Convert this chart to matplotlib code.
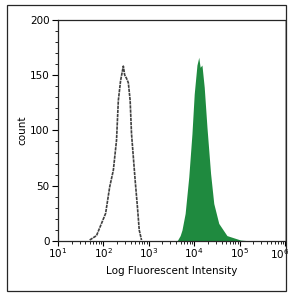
import numpy as np
import matplotlib
matplotlib.use("Agg")
import matplotlib.pyplot as plt
from matplotlib.patches import Rectangle
from matplotlib.ticker import MultipleLocator, LogLocator, FuncFormatter

# control (unstained) histogram, log10 intensity vs count
ctrl_log = [1.70, 1.85, 1.96, 2.05, 2.14, 2.22, 2.29, 2.33, 2.38, 2.44,
            2.47, 2.51, 2.55, 2.59, 2.62, 2.70, 2.75, 2.79, 2.84]
ctrl_cnt = [1, 5, 16, 25, 49, 64, 91, 127, 145, 158,
            150, 147, 143, 127, 97, 55, 31, 10, 1]

# stained sample histogram
stain_log = [3.62, 3.69, 3.73, 3.80, 3.88, 3.95, 4.00, 4.06, 4.10, 4.13,
             4.17, 4.22, 4.28, 4.36, 4.43, 4.54, 4.72, 5.02, 5.30]
stain_cnt = [0, 5, 10, 25, 58, 97, 133, 159, 166, 157,
             159, 139, 103, 61, 34, 16, 5, 1, 0]

plt.rcParams.update({
    'font.family': 'DejaVu Sans',
    'font.size': 7,
    'xtick.labelsize': 7.5,
    'ytick.labelsize': 7.5,
    'axes.labelsize': 7.5,
})

fig = plt.figure(figsize=(2.88, 2.93), dpi=100)
ax = fig.add_axes([0.201, 0.177, 0.789, 0.756])

ax.fill_between(10 ** np.array(stain_log), stain_cnt, 0, color='#1f8a3f', lw=0)
ax.plot(10 ** np.array(ctrl_log), ctrl_cnt, color='0.25', lw=1.2, ls=(0, (2, 0.5)))

ax.set_xscale('log')
ax.set_xlim(10, 1e6)
ax.set_ylim(0, 200)
ax.xaxis.set_major_locator(LogLocator(base=10, numticks=10))
ax.xaxis.set_minor_locator(LogLocator(base=10, subs=np.arange(2, 10), numticks=20))


def dec_fmt(v, pos):
    e = int(round(np.log10(v)))
    if e >= 6:
        return ''  # drawn separately so it stays inside the frame
    return r'$\mathdefault{10^{%d}}$' % e


ax.xaxis.set_major_formatter(FuncFormatter(dec_fmt))
ax.yaxis.set_major_locator(MultipleLocator(50))
ax.yaxis.set_minor_locator(MultipleLocator(10))

ax.tick_params(which='major', direction='out', length=4, width=0.8, pad=2)
ax.tick_params(which='minor', direction='out', length=2.2, width=0.6)
ax.tick_params(axis='x', which='major', length=3.5, pad=0.5)

ax.annotate(r'$\mathdefault{10^{6}}$', xy=(1e6, 0), xycoords=('data', 'axes fraction'),
            xytext=(-4, -4.5), textcoords='offset points', ha='center', va='top',
            fontsize=7.5)

ax.set_xlabel('Log Fluorescent Intensity', labelpad=4)
ax.set_ylabel('count', labelpad=2)

for s in ['left', 'bottom', 'top']:
    ax.spines[s].set_color('0.15')
    ax.spines[s].set_linewidth(0.9)
ax.spines['right'].set_color('0.6')
ax.spines['right'].set_linewidth(0.6)

fig.patches.append(Rectangle((0.024, 0.007), 0.969, 0.976, transform=fig.transFigure,
                             fill=False, edgecolor='0.15', lw=0.9))

fig.savefig('out.png', dpi=100)
